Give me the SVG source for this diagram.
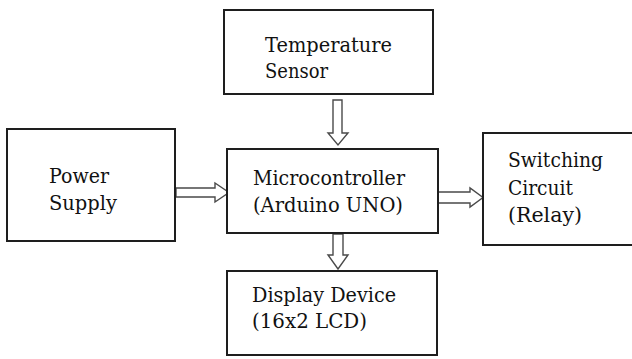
<svg xmlns="http://www.w3.org/2000/svg" width="632" height="359" viewBox="0 0 632 359">
<style>
.box{fill:#fff;stroke:#1e1e1e;stroke-width:2}
.arr{fill:#fff;stroke:#4a4a4a;stroke-width:1.4;stroke-linejoin:miter}
.t{font-family:"DejaVu Serif","Liberation Serif",serif;font-size:20px;fill:#111}
</style>
<rect width="632" height="359" fill="#fff"/>
<g id="connectors">
<path class="arr" d="M333,100 H342 V133 H348 L338,145 L328,133 H333 Z"/>
<path class="arr" d="M176,188 H215 V183 L229,192.5 L215,202 V197 H176 Z"/>
<path class="arr" d="M438,192 H470 V188 L483,197.5 L470,207 V203 H438 Z"/>
<path class="arr" d="M333,234 H343 V255 H348 L338,269 L328,255 H333 Z"/>
</g>
<g id="temperature-sensor">
<rect class="box" x="224" y="10" width="209" height="84"/>
<text class="t" x="265" y="52" textLength="127" lengthAdjust="spacingAndGlyphs">Temperature</text>
<text class="t" x="265" y="78" textLength="63" lengthAdjust="spacingAndGlyphs">Sensor</text>
</g>
<g id="power-supply">
<rect class="box" x="7" y="129" width="168" height="112"/>
<text class="t" x="49" y="183" textLength="60" lengthAdjust="spacingAndGlyphs">Power</text>
<text class="t" x="49" y="210" textLength="68" lengthAdjust="spacingAndGlyphs">Supply</text>
</g>
<g id="microcontroller">
<rect class="box" x="227" y="149" width="211" height="84"/>
<text class="t" x="253" y="185" textLength="152" lengthAdjust="spacingAndGlyphs">Microcontroller</text>
<text class="t" x="253" y="212" textLength="150" lengthAdjust="spacingAndGlyphs">(Arduino UNO)</text>
</g>
<g id="switching-circuit">
<rect class="box" x="483" y="133" width="152" height="112"/>
<text class="t" x="508" y="167" textLength="95" lengthAdjust="spacingAndGlyphs">Switching</text>
<text class="t" x="508" y="195" textLength="65" lengthAdjust="spacingAndGlyphs">Circuit</text>
<text class="t" x="508" y="222" textLength="74" lengthAdjust="spacingAndGlyphs">(Relay)</text>
</g>
<g id="display-device">
<rect class="box" x="227" y="271" width="210" height="84"/>
<text class="t" x="252" y="302" textLength="144" lengthAdjust="spacingAndGlyphs">Display Device</text>
<text class="t" x="252" y="328" textLength="115" lengthAdjust="spacingAndGlyphs">(16x2 LCD)</text>
</g>
</svg>
